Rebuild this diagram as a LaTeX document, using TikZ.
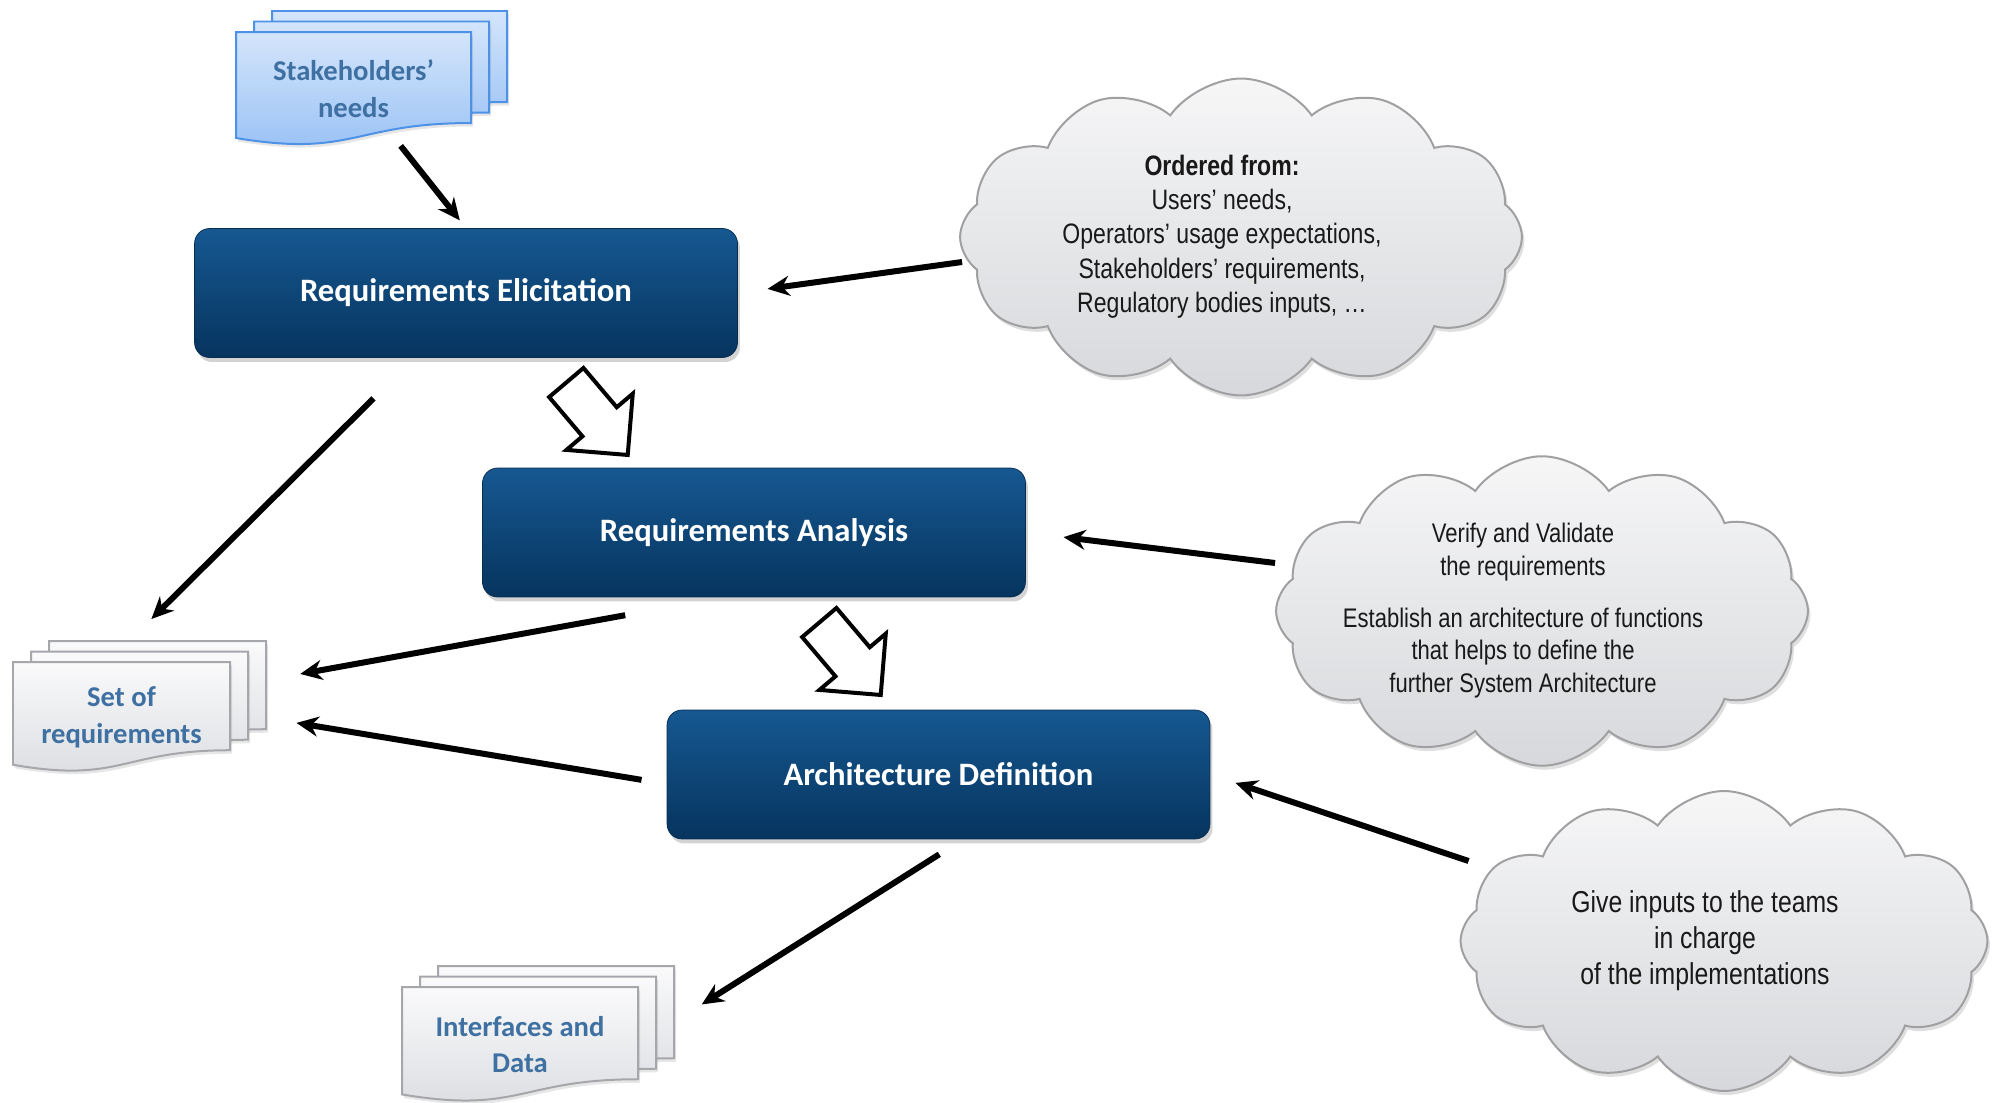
\documentclass[tikz,border=0pt]{standalone}
\usepackage{fontspec}
\usetikzlibrary{calc}
\usetikzlibrary{arrows.meta}
\usetikzlibrary{shapes.symbols}
\usetikzlibrary{shapes.arrows}
\usetikzlibrary{shadows}

\newfontfamily\boxfont{Carlito}
\newfontfamily\cloudfont[FakeStretch=0.82]{Liberation Sans}

\definecolor{stagetop}{RGB}{22,88,145}
\definecolor{stagebottom}{RGB}{6,52,94}
\definecolor{stageedge}{RGB}{8,44,80}
\definecolor{needstop}{RGB}{212,229,251}
\definecolor{needsbottom}{RGB}{150,192,245}
\definecolor{needsedge}{RGB}{78,146,232}
\definecolor{papertop}{RGB}{250,250,251}
\definecolor{paperbottom}{RGB}{218,220,224}
\definecolor{paperedge}{RGB}{165,167,170}
\definecolor{doctext}{RGB}{62,112,162}
\definecolor{cloudtop}{RGB}{246,246,247}
\definecolor{cloudbottom}{RGB}{214,216,219}
\definecolor{cloudedge}{RGB}{160,160,162}
\definecolor{cloudtext}{RGB}{25,25,25}

\tikzset{
	stage/.style={rounded corners=0.3cm, top color=stagetop, bottom color=stagebottom, draw=stageedge,
		text=white, font=\boxfont\bfseries\fontsize{18.6}{22}\selectfont,
		minimum width=10.86cm, minimum height=2.58cm,
		drop shadow={opacity=0.35, shadow xshift=0.05cm, shadow yshift=-0.09cm}},
	note/.style={cloud, cloud puffs=12, cloud puff arc=110, cloud ignores aspect, draw=cloudedge, line width=0.04cm,
		top color=cloudtop, bottom color=cloudbottom, text=cloudtext, inner sep=0pt,
		drop shadow={opacity=0.25, shadow xshift=0.05cm, shadow yshift=-0.08cm}},
	hollow/.style={single arrow, draw=black, line width=0.08cm, fill=white, inner xsep=0pt, inner ysep=0.41cm,
		minimum height=1.9cm, single arrow head extend=0.42cm},
	flow/.style={line width=0.12cm, -{Stealth[length=0.44cm, width=0.4cm]}},
	bluepage/.style={top color=needstop, bottom color=needsbottom, draw=needsedge, line width=0.04cm},
	greypage/.style={top color=papertop, bottom color=paperbottom, draw=paperedge, line width=0.04cm},
	doclabel/.style={text=doctext, font=\boxfont\bfseries\fontsize{16.3}{21}\selectfont, align=center}
}

% stack of three pages: name, x, y, width, height, page style, label
\newcommand{\docstack}[7]{%
	\foreach \k in {2,1,0} {
		\begin{scope}[shift={({#2+18*\k},{#3-10.5*\k})}]
			\path[#6, drop shadow={opacity=0.2, shadow xshift=0.04cm, shadow yshift=-0.07cm}]
				({-#4/2},{-#5/2}) -- ({#4/2},{-#5/2}) -- ({#4/2},{0.302*#5})
				.. controls (0,{0.302*#5}) and (0,{0.607*#5}) .. ({-#4/2},{0.434*#5}) -- cycle;
		\end{scope}
	}
	\node[doclabel, minimum width={#4*0.02cm}, minimum height={#5*0.02cm}] (#1) at (#2,#3) {#7};
}

% cloud text, pushed a little to the left of the cloud centre
\newcommand{\cloudlines}[1]{\hspace*{-0.76cm}\begin{tabular}{@{}c@{}}#1\end{tabular}}

\begin{document}
\begin{tikzpicture}[x=0.02cm, y=-0.02cm]

	\useasboundingbox (0,0) rectangle (2001,1102);

	% documents
	\docstack{needs}{353.5}{88.75}{235}{113.5}{bluepage}{Stakeholders’\\needs}
	\docstack{setreq}{121.5}{717}{217}{110}{greypage}{Set of\\requirements}
	\docstack{ifdata}{520}{1044.5}{236}{115}{greypage}{Interfaces and\\Data}

	% process steps
	\node[stage] (elicit) at (466,293) {Requirements Elicitation};
	\node[stage] (analysis) at (754,532.5) {Requirements Analysis};
	\node[stage] (archdef) at (938.5,774.5) {Architecture Definition};

	% clouds
	\node[note, minimum width=11.24cm, minimum height=6.34cm, font=\cloudfont\fontsize{16}{19.6}\selectfont]
		(cloudA) at (1241,237)
		{\cloudlines{\textbf{Ordered from:}\\Users’ needs,\\Operators’ usage expectations,\\Stakeholders’ requirements,\\Regulatory bodies inputs, …}};
	\node[note, minimum width=10.64cm, minimum height=6.08cm, font=\cloudfont\fontsize{15.3}{18.4}\selectfont]
		(cloudB) at (1542,611)
		{\cloudlines{Verify and Validate\\the requirements\\[0.4cm]Establish an architecture of functions\\that helps to define the\\further System Architecture}};
	\node[note, minimum width=10.54cm, minimum height=6cm, font=\cloudfont\fontsize{17.2}{20.6}\selectfont]
		(cloudC) at (1724,941)
		{\cloudlines{Give inputs to the teams\\in charge\\of the implementations}};

	% hollow arrows between steps
	\node[hollow, rotate=-49.7, anchor=tail] (flowAB) at (565,381) {};
	\node[hollow, rotate=-49.7, anchor=tail] (flowBC) at (818,621) {};

	% connectors
	\draw[flow, shorten >=0.2cm] ($(needs.south)!0.4!(needs.south east)$) -- (elicit.north);
	\draw[flow, shorten >=0.6cm] ($(cloudA.west)+(3,25)$) -- (elicit.east);
	\draw[flow, shorten <=1.15cm, shorten >=1.21cm]
		($(elicit.south west)!0.405!(elicit.south east)$) -- ($(setreq.north west)!0.44!(setreq.north east)$);
	\draw[flow, shorten <=2.01cm, shorten >=1.42cm]
		($(analysis.south west)!0.445!(analysis.south east)$) -- ($(setreq.north east)!0.225!(setreq.south east)$);
	\draw[flow, shorten <=0.51cm, shorten >=1.34cm]
		(archdef.182.5) -- ($(setreq.north east)!0.455!(setreq.south east)$);
	\draw[flow, shorten >=0.76cm] ($(cloudB.west)+(0,-48)$) -- (analysis.east);
	\draw[flow, shorten >=0.53cm] ($(cloudC.west)+(9,-80)$) -- (archdef.east);
	\draw[flow, shorten <=0.56cm, shorten >=1.5cm]
		($(archdef.south west)!0.545!(archdef.south east)$) -- (ifdata.east);

\end{tikzpicture}
\end{document}
